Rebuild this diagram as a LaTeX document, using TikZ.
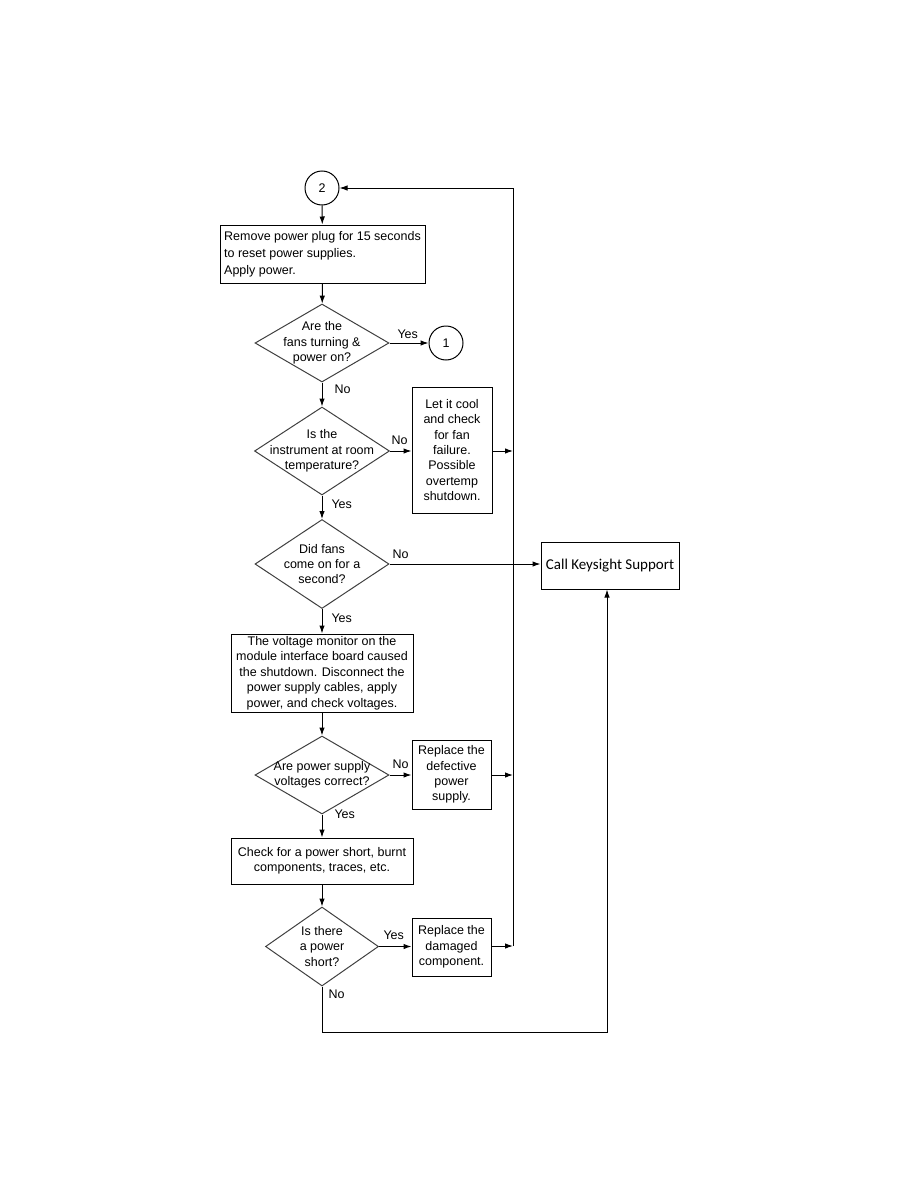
\documentclass[tikz,border=0pt]{standalone}
\usepackage{fontspec}
\setmainfont{Liberation Sans}
\newfontfamily\kfont{Carlito}
\usetikzlibrary{shapes.geometric,arrows.meta}
\begin{document}
\begin{tikzpicture}[x=1pt,y=-1pt,line width=1pt,>={Latex[length=8pt,width=5.5pt]}]
		\tikzset{txt/.style={font=\fontsize{12.5}{15.4}\selectfont,inner sep=0pt,text=black,align=center},
			stepbox/.style={txt,draw,rectangle,inner sep=2pt},
			ask/.style={draw=black!75,diamond,inner sep=0pt},
			conn/.style={draw,circle,minimum size=34pt,txt},
			ans/.style={txt,anchor=west}}
		\useasboundingbox (0,0) rectangle (918,1188);
		%Begin plot
		\node[conn] (c2) at (322,188) {2};
		\node[stepbox,minimum width=205pt,minimum height=58pt,align=left,font=\fontsize{12.5}{16.8}\selectfont] (rem) at (322.5,254) {Remove power plug for 15 seconds\\to reset power supplies.\\Apply power.};
		\node[ask,minimum width=134pt,minimum height=78pt,label={[txt]center:Are the\\fans turning \&\\power on?}] (fans) at (322,343) {};
		\node[conn] (c1) at (446,343) {1};
		\node[ask,minimum width=135pt,minimum height=88pt,label={[txt]center:Is the\\instrument at room\\temperature?}] (room) at (322,451) {};
		\node[stepbox,minimum width=80pt,minimum height=126pt] (cool) at (452,450) {Let it cool\\and check\\for fan\\failure.\\Possible\\overtemp\\shutdown.};
		\node[ask,minimum width=134pt,minimum height=89pt,label={[txt]center:Did fans\\come on for a\\second?}] (once) at (322,564) {};
		\node[stepbox,minimum width=138pt,minimum height=47pt,font=\kfont\fontsize{15}{18}\selectfont] (ks) at (610,565.5) {Call Keysight Support};
		\node[stepbox,minimum width=182pt,minimum height=78pt] (mon) at (322,673) {The voltage monitor on the\\module interface board caused\\the shutdown. Disconnect the\\power supply cables, apply\\power, and check voltages.};
		\node[ask,minimum width=134pt,minimum height=78pt,label={[txt]center:Are power supply\\voltages correct?}] (volt) at (322,775) {};
		\node[stepbox,minimum width=79pt,minimum height=69pt] (psu) at (451.5,774.5) {Replace the\\defective\\power\\supply.};
		\node[stepbox,minimum width=182pt,minimum height=46pt] (chk) at (322,861) {Check for a power short, burnt\\components, traces, etc.};
		\node[ask,minimum width=113pt,minimum height=79pt,label={[txt]center:Is there\\a power\\short?}] (short) at (322,946.5) {};
		\node[stepbox,minimum width=79pt,minimum height=58pt] (dmg) at (451.5,947) {Replace the\\damaged\\component.};
		\coordinate (j1) at (513,451);
		\coordinate (j2) at (513,775);
		\coordinate (j3) at (513,946);
		\coordinate (low) at (322,1032);
		%answers
		\node[ans] (y1) at (397,334) {Yes};
		\node[ans] (n1) at (334,389) {No};
		\node[ans] (n2) at (391,440) {No};
		\node[ans] (y2) at (331,504) {Yes};
		\node[ans] (n3) at (392,554) {No};
		\node[ans] (y3) at (331,618) {Yes};
		\node[ans] (n4) at (392,764) {No};
		\node[ans] (y4) at (334,814) {Yes};
		\node[ans] (y5) at (383,935) {Yes};
		\node[ans] (n5) at (328,994) {No};
		%arrows
		\draw[->] (c2) -- (rem);
		\draw[->] (rem) -- (fans);
		\draw[->] (fans.east) -- (c1);
		\draw[->] (fans.south) -- (room.north);
		\draw[->] (room.east) -- (cool.west |- room.east);
		\draw[->] (cool.east |- j1) -- (j1);
		\draw[->] (room.south) -- (once.north);
		\draw[->] (once.east) -- (once.east -| ks.west);
		\draw[->] (once.south) -- (mon);
		\draw[->] (mon) -- (volt.north);
		\draw[->] (volt.east) -- (volt.east -| psu.west);
		\draw[->] (psu.east |- j2) -- (j2);
		\draw[->] (volt.south) -- (chk);
		\draw[->] (chk) -- (short.north);
		\draw[->] (short.east) -- (short.east -| dmg.west);
		\draw[->] (dmg.east |- j3) -- (j3);
		\draw[->] (j3) |- (c2.east);
		\draw[->] (short.south) -- (low) -| ([xshift=-3pt]ks.south);
	\end{tikzpicture}
\end{document}
